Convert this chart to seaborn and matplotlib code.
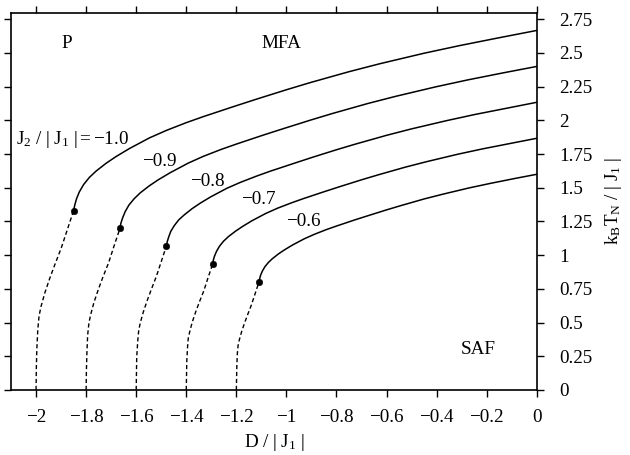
import pandas as pd
import matplotlib
matplotlib.use('Agg')
from matplotlib import pyplot as plt
import seaborn as sns

# phase boundaries, one pair of arrays per J2/|J1|
j2_labels = ['−1.0', '−0.9', '−0.8', '−0.7', '−0.6']

solid_x = [
    [-1.850, -1.845, -1.838, -1.827, -1.810, -1.787, -1.760, -1.720, -1.680, -1.627, -1.547, -1.480,
     -1.400, -1.333, -1.213, -1.120, -1.000, -0.907, -0.750, -0.627, -0.450, -0.307, -0.150, 0.000],
    [-1.665, -1.661, -1.654, -1.644, -1.629, -1.608, -1.584, -1.548, -1.512, -1.464, -1.392, -1.332,
     -1.260, -1.200, -1.092, -1.008, -0.900, -0.816, -0.675, -0.564, -0.405, -0.276, -0.135, 0.000],
    [-1.480, -1.476, -1.470, -1.462, -1.448, -1.430, -1.408, -1.376, -1.344, -1.302, -1.238, -1.184,
     -1.120, -1.066, -0.970, -0.896, -0.800, -0.726, -0.600, -0.502, -0.360, -0.246, -0.120, 0.000],
    [-1.295, -1.292, -1.287, -1.279, -1.267, -1.251, -1.232, -1.204, -1.176, -1.139, -1.083, -1.036,
     -0.980, -0.933, -0.849, -0.784, -0.700, -0.635, -0.525, -0.439, -0.315, -0.215, -0.105, 0.000],
    [-1.110, -1.107, -1.103, -1.096, -1.086, -1.072, -1.056, -1.032, -1.008, -0.976, -0.928, -0.888,
     -0.840, -0.800, -0.728, -0.672, -0.600, -0.544, -0.450, -0.376, -0.270, -0.184, -0.090, 0.000],
]
solid_y = [
    [1.331, 1.375, 1.420, 1.470, 1.524, 1.577, 1.624, 1.682, 1.732, 1.791, 1.870, 1.925,
     1.983, 2.027, 2.101, 2.157, 2.227, 2.279, 2.361, 2.420, 2.498, 2.555, 2.613, 2.667],
    [1.198, 1.238, 1.278, 1.323, 1.372, 1.419, 1.462, 1.514, 1.559, 1.612, 1.683, 1.733,
     1.785, 1.824, 1.891, 1.941, 2.004, 2.051, 2.125, 2.178, 2.248, 2.300, 2.352, 2.400],
    [1.065, 1.100, 1.136, 1.176, 1.219, 1.262, 1.299, 1.346, 1.386, 1.433, 1.496, 1.540,
     1.586, 1.622, 1.681, 1.726, 1.782, 1.823, 1.889, 1.936, 1.998, 2.044, 2.090, 2.134],
    [0.932, 0.963, 0.994, 1.029, 1.067, 1.104, 1.137, 1.177, 1.212, 1.254, 1.309, 1.348,
     1.388, 1.419, 1.471, 1.510, 1.559, 1.595, 1.653, 1.694, 1.749, 1.789, 1.829, 1.867],
    [0.799, 0.825, 0.852, 0.882, 0.914, 0.946, 0.974, 1.009, 1.039, 1.075, 1.122, 1.155,
     1.190, 1.216, 1.261, 1.294, 1.336, 1.367, 1.417, 1.452, 1.499, 1.533, 1.568, 1.600],
]

dashed_x = [
    [-2.000, -1.999, -1.997, -1.993, -1.988, -1.980, -1.965, -1.945, -1.925, -1.900, -1.875, -1.850],
    [-1.800, -1.799, -1.797, -1.794, -1.789, -1.782, -1.769, -1.751, -1.733, -1.710, -1.688, -1.665],
    [-1.600, -1.599, -1.598, -1.594, -1.590, -1.584, -1.572, -1.556, -1.540, -1.520, -1.500, -1.480],
    [-1.400, -1.399, -1.398, -1.395, -1.392, -1.386, -1.376, -1.362, -1.348, -1.330, -1.313, -1.295],
    [-1.200, -1.199, -1.198, -1.196, -1.193, -1.188, -1.179, -1.167, -1.155, -1.140, -1.125, -1.110],
]
dashed_y = [
    [0.000, 0.150, 0.300, 0.450, 0.550, 0.620, 0.720, 0.830, 0.930, 1.050, 1.190, 1.331],
    [0.000, 0.135, 0.270, 0.405, 0.495, 0.558, 0.648, 0.747, 0.837, 0.945, 1.071, 1.198],
    [0.000, 0.120, 0.240, 0.360, 0.440, 0.496, 0.576, 0.664, 0.744, 0.840, 0.952, 1.065],
    [0.000, 0.105, 0.210, 0.315, 0.385, 0.434, 0.504, 0.581, 0.651, 0.735, 0.833, 0.932],
    [0.000, 0.090, 0.180, 0.270, 0.330, 0.372, 0.432, 0.498, 0.558, 0.630, 0.714, 0.799],
]

# tricritical points
dot_x = [-1.850, -1.665, -1.480, -1.295, -1.110]
dot_y = [1.331, 1.198, 1.065, 0.932, 0.799]

x_ticks = [-2, -1.8, -1.6, -1.4, -1.2, -1, -0.8, -0.6, -0.4, -0.2, 0]
y_ticks = [0, 0.25, 0.5, 0.75, 1, 1.25, 1.5, 1.75, 2, 2.25, 2.5, 2.75]

FS = 13.8

sns.set_style('ticks')
plt.rcParams['font.family'] = ['Liberation Serif', 'DejaVu Serif']
plt.rcParams['mathtext.fontset'] = 'custom'
plt.rcParams['mathtext.rm'] = 'Liberation Serif'
plt.rcParams['mathtext.it'] = 'Liberation Serif:italic'
plt.rcParams['font.size'] = FS
for key in ['text.color', 'axes.labelcolor', 'xtick.color', 'ytick.color', 'axes.edgecolor']:
    plt.rcParams[key] = 'black'

fig = plt.figure(figsize=(6.3, 4.55), dpi=100)
ax = fig.add_axes([0.0175, 0.1429, 0.8345, 0.8296])

solid = pd.concat([pd.DataFrame({'D': xs, 'T': ys, 'J2': lab})
                   for xs, ys, lab in zip(solid_x, solid_y, j2_labels)])
dashed = pd.concat([pd.DataFrame({'D': xs, 'T': ys, 'J2': lab})
                    for xs, ys, lab in zip(dashed_x, dashed_y, j2_labels)])

sns.lineplot(data=solid, x='D', y='T', units='J2', estimator=None, sort=False,
             color='black', linewidth=1.1, ax=ax)
sns.lineplot(data=dashed, x='D', y='T', units='J2', estimator=None, sort=False,
             color='black', linewidth=1.0, linestyle=(0, (3.0, 2.0)), ax=ax)
sns.scatterplot(x=dot_x, y=dot_y, color='black', s=22, edgecolor='black', zorder=5, ax=ax)


def fmt(v):
    return ('%g' % v).replace('-', '\u2212')


ax.set_xlim(-2.1, 0)
ax.set_ylim(0, 2.8)
ax.set_xticks(x_ticks)
ax.set_yticks(y_ticks)
ax.set_xticklabels([fmt(t) for t in x_ticks])
ax.set_yticklabels([fmt(t) for t in y_ticks])
ax.tick_params(direction='out', length=5, width=1, top=True, right=True, left=True, bottom=True,
               labelleft=False, labelright=True, labelsize=FS)
ax.tick_params(axis='x', pad=9)
ax.tick_params(axis='y', pad=11)
for sp in ax.spines.values():
    sp.set_visible(True)
    sp.set_linewidth(1.2)

ax.set_xlabel(r'$\mathrm{D\ /\ |\ J_1\ |}$', fontsize=FS, labelpad=4)
ax.yaxis.set_label_position('right')
ax.set_ylabel(r'$\mathrm{k_BT_N\ /\ |\ J_1\ |}$', fontsize=FS, labelpad=8)

ax.text(-1.879, 2.569, 'P', ha='center', va='center', fontsize=FS)
ax.text(-1.019, 2.569, 'MFA', ha='center', va='center', fontsize=FS)
ax.text(-0.233, 0.297, 'SAF', ha='center', va='center', fontsize=FS)
ax.text(-2.079, 1.856, r'$\mathrm{J_2\ /\ |\ J_1\ | = -1.0}$', ha='left', va='center', fontsize=FS)
ax.text(-1.507, 1.695, '\u22120.9', ha='center', va='center', fontsize=FS)
ax.text(-1.317, 1.547, '\u22120.8', ha='center', va='center', fontsize=FS)
ax.text(-1.114, 1.410, '\u22120.7', ha='center', va='center', fontsize=FS)
ax.text(-0.933, 1.250, '\u22120.6', ha='center', va='center', fontsize=FS)

fig.savefig('out.png', dpi=100)
